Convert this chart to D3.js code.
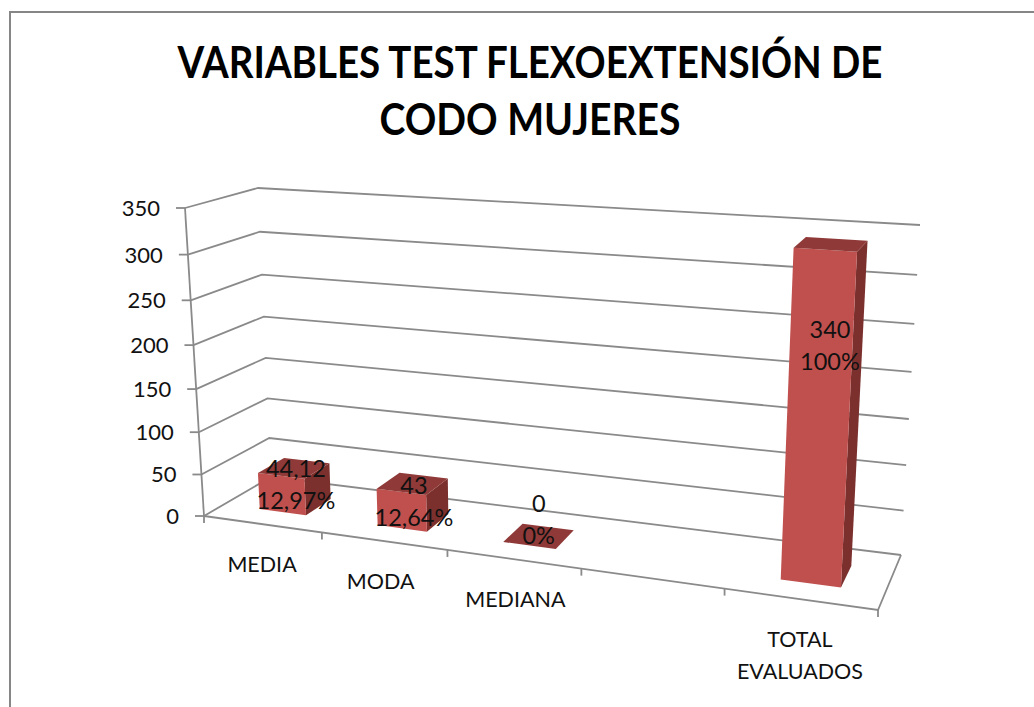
<!DOCTYPE html>
<html>
<head>
<meta charset="utf-8">
<script src="https://cdn.jsdelivr.net/npm/d3@7"></script>
<style>
html,body{margin:0;padding:0;background:#fff;overflow:hidden}
svg{display:block}
text{font-family:Lato,"Open Sans",sans-serif}
</style>
</head>
<body>
<div id="chart"></div>
<script>
const categories = ["MEDIA", "MODA", "MEDIANA", "", "TOTAL EVALUADOS"];
const values = [44.12, 43, 0, null, 340];
const valueLabels = ["44,12", "43", "0", "", "340"];
const percentLabels = ["12,97%", "12,64%", "0%", "", "100%"];
const valueTicks = [0, 50, 100, 150, 200, 250, 300, 350];
const titleLines = ["VARIABLES TEST FLEXOEXTENSIÓN DE", "CODO MUJERES"];
const titleWidths = [705, 301];

const W = 1034, H = 707;
const svg = d3.select("#chart").append("svg").attr("width", W).attr("height", H);

// frame
svg.append("rect").attr("x", 10).attr("y", 12).attr("width", 1040).attr("height", 720)
  .attr("fill", "#fff").attr("stroke", "#868686").attr("stroke-width", 2);

// box corners: floor (value 0) and top (value 350)
const cFL0 = [204, 516], cFL1 = [185, 208];
const cBL0 = [271, 477], cBL1 = [258, 188];
const cFR0 = [878, 610], cFR1 = [897, 252];
const cBR0 = [901, 555], cBR1 = [920, 225];

const vScale = d3.scaleLinear().domain([0, 350]).range([0, 1]);
const tScale = d3.scaleBand().domain(d3.range(categories.length)).range([0, 1]);
const foreshorten = (t, r) => t / (t + (1 - t) * r);
const lerp = (a, b, k) => [a[0] + (b[0] - a[0]) * k, a[1] + (b[1] - a[1]) * k];

function project(t, v, z) {
  const s = foreshorten(t, 1.179), k = foreshorten(vScale(v), 1.07);
  const fl = lerp(cFL0, cFL1, k), bl = lerp(cBL0, cBL1, k);
  const fr = lerp(cFR0, cFR1, k), br = lerp(cBR0, cBR1, k);
  return lerp(lerp(fl, fr, s), lerp(bl, br, s), z);
}
const line = d3.line();
const axisColor = "#8a8a8a";
const walls = svg.append("g").attr("fill", "none").attr("stroke", axisColor).attr("stroke-width", 1.8);

// gridlines on side and back walls
valueTicks.forEach(v => {
  walls.append("path").attr("d", line([project(0, v, 0), project(0, v, 1), project(1, v, 1)]));
});
// floor edges
walls.append("path").attr("d", line([project(0, 0, 0), project(1, 0, 0), project(1, 0, 1)]));
// value axis line and ticks
walls.append("path").attr("d", line([project(0, 0, 0), project(0, 350, 0)]));
valueTicks.forEach(v => {
  const p = project(0, v, 0);
  walls.append("path").attr("d", line([[p[0] - 9, p[1]], p]));
});
// category ticks
d3.range(categories.length + 1).forEach(i => {
  const p = project(i / categories.length, 0, 0);
  walls.append("path").attr("d", line([p, [p[0], p[1] + 7]]));
});

// value labels
svg.append("g").selectAll("text").data(valueTicks).join("text")
  .attr("x", d => project(0, d, 0)[0] - 25)
  .attr("y", d => project(0, d, 0)[1] + 8)
  .attr("text-anchor", "end").attr("font-size", 22).attr("fill", "#111")
  .text(d => d);

// bars
const zFront = 0.3, zBack = 0.7, barShare = 0.4, barNudge = 0.003;
const colors = { front: "#c0504d", side: "#7b302e", top: "#8f3a38" };
const bars = svg.append("g");
categories.forEach((c, i) => {
  if (values[i] === null) return;
  const band = tScale.bandwidth();
  const mid = tScale(i) + band / 2 + barNudge;
  const t0 = mid - band * barShare / 2, t1 = mid + band * barShare / 2;
  const v = values[i];
  const poly = (pts, fill) => bars.append("path").attr("d", line(pts) + "Z").attr("fill", fill);
  if (v > 0) {
    poly([project(t1, 0, zFront), project(t1, 0, zBack), project(t1, v, zBack), project(t1, v, zFront)], colors.side);
    poly([project(t0, 0, zFront), project(t1, 0, zFront), project(t1, v, zFront), project(t0, v, zFront)], colors.front);
  }
  poly([project(t0, v, zFront), project(t1, v, zFront), project(t1, v, zBack), project(t0, v, zBack)], colors.top);
});

// data labels: two lines, placed relative to the bar centre
const labelShift = [[3, -1], [3, 0], [2, -16], [0, 0], [9, -68]];
const dataLabels = svg.append("g").attr("text-anchor", "middle").attr("font-size", 23.5).attr("fill", "#111");
categories.forEach((c, i) => {
  if (values[i] === null) return;
  const mid = tScale(i) + tScale.bandwidth() / 2;
  const p = project(mid, values[i] / 2, 0.5);
  const cx = p[0] + labelShift[i][0], cy = p[1] + labelShift[i][1];
  dataLabels.append("text").attr("x", cx).attr("y", cy - 8).text(valueLabels[i]);
  dataLabels.append("text").attr("x", cx).attr("y", cy + 24).text(percentLabels[i]);
});

// category labels
const catShift = [0, -3, 2, 0, 0];
const catLabels = svg.append("g").attr("text-anchor", "middle").attr("font-size", 21.5).attr("fill", "#111");
categories.forEach((c, i) => {
  if (!c) return;
  const mid = tScale(i) + tScale.bandwidth() / 2;
  const p = project(mid, 0, 0);
  c.split(" ").forEach((w, j) => {
    catLabels.append("text").attr("x", p[0] + catShift[i]).attr("y", p[1] + 48 + j * 32).text(w);
  });
});

// title
const title = svg.append("g").attr("text-anchor", "middle").attr("font-size", 44)
  .attr("font-weight", 700).attr("fill", "#000");
titleLines.forEach((l, i) => {
  title.append("text").attr("x", 530).attr("y", 78 + i * 57)
    .attr("textLength", titleWidths[i]).attr("lengthAdjust", "spacingAndGlyphs").text(l);
});
</script>
</body>
</html>
